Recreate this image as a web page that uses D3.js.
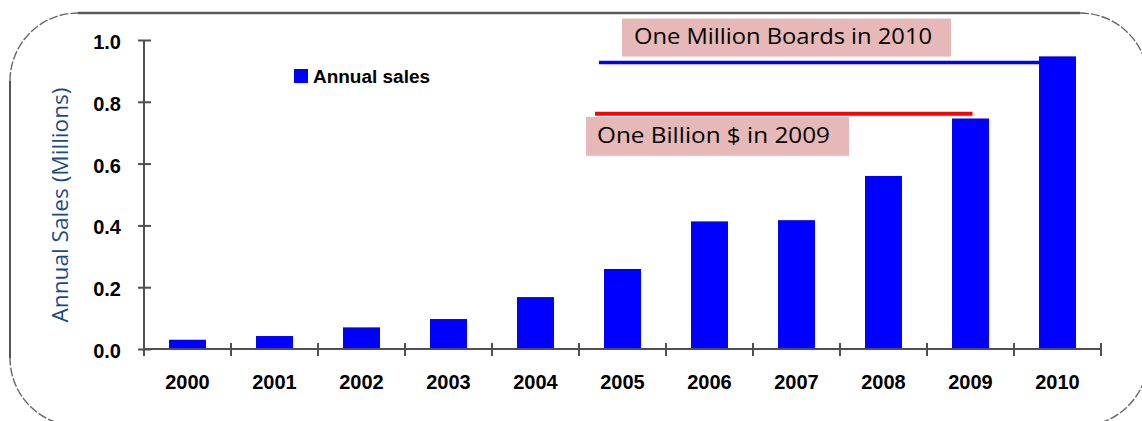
<!DOCTYPE html>
<html>
<head>
<meta charset="utf-8">
<script src="https://cdn.jsdelivr.net/npm/d3@7"></script>
<style>
  body { margin: 0; background: #fff; }
  svg { display: block; }
</style>
</head>
<body>
<svg id="chart" width="1142" height="421"></svg>
<script>
// ---- data ----
const years = ["2000", "2001", "2002", "2003", "2004", "2005", "2006", "2007", "2008", "2009", "2010"];
const annualSales = [0.03, 0.042, 0.07, 0.097, 0.168, 0.259, 0.413, 0.417, 0.56, 0.746, 0.947];
const yTickValues = [0, 0.2, 0.4, 0.6, 0.8, 1.0];
const seriesName = "Annual sales";
const yTitle = "Annual Sales  (Millions)";
const milestoneLabels = ["One Million  Boards in  2010", "One Billion $ in  2009"];
const milestoneLevels = [0.927, 0.761];

// ---- layout ----
const svg = d3.select("#chart");
const plot = { left: 144, right: 1101, top: 40, bottom: 349 };
const axisColor = "#505050";
const barColor = "#0000ff";
const sans = "'Liberation Sans', Arial, sans-serif";
const calloutFont = "'Open Sans', 'Liberation Sans', sans-serif";

const x = d3.scaleBand()
  .domain(years)
  .range([plot.left, plot.right])
  .paddingInner(0.575)
  .paddingOuter(0.2875);

const y = d3.scaleLinear()
  .domain([0, 1])
  .range([plot.bottom, plot.top]);

// ---- rounded frame ----
const fr = { x0: 10, y0: 13, x1: 1148, y1: 426, r: 68 };
const frame = svg.append("g").attr("fill", "none").attr("stroke", "#666");
// straight edges
frame.append("line")
  .attr("x1", fr.x0 + fr.r).attr("x2", fr.x1 - fr.r)
  .attr("y1", fr.y0).attr("y2", fr.y0)
  .attr("stroke-width", 2.6).attr("stroke", "#5a5a5a");
frame.append("line")
  .attr("x1", fr.x0).attr("x2", fr.x0)
  .attr("y1", fr.y0 + fr.r).attr("y2", fr.y1 - fr.r)
  .attr("stroke-width", 2).attr("stroke", "#555");
// rounded corners
const corners = [
  `M${fr.x0},${fr.y0 + fr.r} A${fr.r},${fr.r} 0 0 1 ${fr.x0 + fr.r},${fr.y0}`,
  `M${fr.x1 - fr.r},${fr.y0} A${fr.r},${fr.r} 0 0 1 ${fr.x1},${fr.y0 + fr.r}`,
  `M${fr.x1},${fr.y1 - fr.r} A${fr.r},${fr.r} 0 0 1 ${fr.x1 - fr.r},${fr.y1}`,
  `M${fr.x0 + fr.r},${fr.y1} A${fr.r},${fr.r} 0 0 1 ${fr.x0},${fr.y1 - fr.r}`
];
frame.selectAll("path.corner").data(corners).join("path")
  .attr("class", "corner")
  .attr("d", d => d)
  .attr("stroke-width", 1.4)
  .attr("stroke-dasharray", "9 2");

// ---- bars ----
svg.append("g").selectAll("rect")
  .data(years.map((yr, i) => ({ yr, v: annualSales[i] })))
  .join("rect")
  .attr("x", d => x(d.yr))
  .attr("y", d => y(d.v))
  .attr("width", x.bandwidth())
  .attr("height", d => y(0) - y(d.v))
  .attr("fill", barColor);

// ---- y axis ----
const yAxis = svg.append("g")
  .attr("transform", `translate(${plot.left},0)`)
  .call(d3.axisLeft(y).tickValues(yTickValues).tickFormat(d3.format(".1f")).tickSize(6).tickPadding(17));
yAxis.select(".domain").attr("stroke", axisColor).attr("stroke-width", 2).attr("d", `M0,${plot.top}V${plot.bottom}`);
yAxis.selectAll(".tick line").attr("x1", 7).attr("stroke", axisColor).attr("stroke-width", 2);
yAxis.selectAll(".tick text")
  .attr("fill", "#000")
  .attr("font-family", sans)
  .attr("font-weight", "bold")
  .attr("font-size", 20)
  .attr("dy", "0.42em");

// ---- x axis ----
const xAxis = svg.append("g")
  .attr("transform", `translate(0,${plot.bottom})`)
  .call(d3.axisBottom(x).tickSize(0).tickPadding(26));
xAxis.select(".domain").attr("stroke", axisColor).attr("stroke-width", 2).attr("d", `M${plot.left},0H${plot.right}`);
xAxis.selectAll(".tick text")
  .attr("fill", "#000")
  .attr("font-family", sans)
  .attr("font-weight", "bold")
  .attr("font-size", 20);
// category boundary ticks
const boundaries = d3.range(years.length + 1).map(i => plot.left + i * x.step());
xAxis.selectAll("line.boundary").data(boundaries).join("line")
  .attr("class", "boundary")
  .attr("x1", d => d).attr("x2", d => d)
  .attr("y1", -6).attr("y2", 7)
  .attr("stroke", axisColor).attr("stroke-width", 2);

// ---- y axis title ----
svg.append("text")
  .attr("transform", `translate(68,205) rotate(-90)`)
  .attr("text-anchor", "middle")
  .attr("fill", "#1a4a84")
  .attr("font-family", calloutFont)
  .attr("font-size", 21)
  .attr("textLength", 235)
  .attr("lengthAdjust", "spacingAndGlyphs")
  .text(yTitle);

// ---- legend ----
const legend = svg.append("g").attr("transform", "translate(294,69)");
legend.append("rect").attr("width", 14).attr("height", 14).attr("fill", barColor);
legend.append("text")
  .attr("x", 19).attr("y", 13.5)
  .attr("fill", "#000")
  .attr("font-family", sans)
  .attr("font-weight", "bold")
  .attr("font-size", 18)
  .attr("textLength", 117)
  .attr("lengthAdjust", "spacingAndGlyphs")
  .text(seriesName);

// ---- milestone callouts ----
const bw = x.bandwidth();
const blueY = y(milestoneLevels[0]);
const redY = y(milestoneLevels[1]);
const blueStart = x("2005") - 5;
const blueEnd = x("2010");
const redStart = x("2005") - 9;
const redEnd = x("2009") + bw / 2 + 2;

svg.append("line")
  .attr("x1", blueStart).attr("x2", blueEnd)
  .attr("y1", blueY).attr("y2", blueY)
  .attr("stroke", "#0000ff").attr("stroke-width", 3.6);
svg.append("line")
  .attr("x1", redStart).attr("x2", redEnd)
  .attr("y1", redY).attr("y2", redY)
  .attr("stroke", "#ff0000").attr("stroke-width", 4);

const boxes = [
  { label: milestoneLabels[0], x: blueStart + 23, y: blueY - 44, w: 329, h: 38, tx: 12, ty: 25.5, tl: 298 },
  { label: milestoneLabels[1], x: redStart - 9, y: redY + 3, w: 263, h: 39, tx: 11, ty: 26, tl: 233 }
];
const boxG = svg.append("g").selectAll("g").data(boxes).join("g")
  .attr("transform", d => `translate(${d.x},${d.y})`);
boxG.append("rect")
  .attr("width", d => d.w).attr("height", d => d.h)
  .attr("fill", "#e6b8b8");
boxG.append("text")
  .attr("x", d => d.tx).attr("y", d => d.ty)
  .attr("fill", "#000")
  .attr("font-family", calloutFont)
  .attr("font-size", 22)
  .attr("textLength", d => d.tl)
  .attr("lengthAdjust", "spacingAndGlyphs")
  .text(d => d.label);
</script>
</body>
</html>
